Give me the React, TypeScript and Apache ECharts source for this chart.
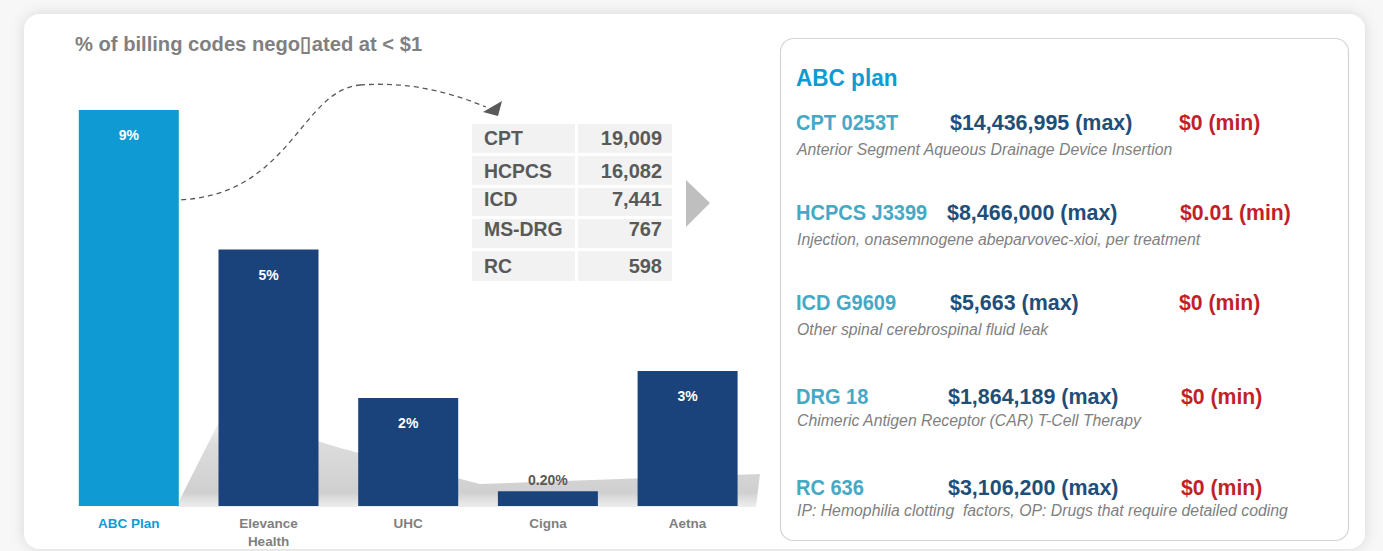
import React, { useEffect, useRef } from "react";
import * as echarts from "echarts";

const categories = ["ABC Plan", "Elevance\nHealth", "UHC", "Cigna", "Aetna"];
const shareValues = [8.8, 5.7, 2.4, 0.33, 3.0];
const shareLabels = ["9%", "5%", "2%", "0.20%", "3%"];

const codeTypes = ["CPT", "HCPCS", "ICD", "MS-DRG", "RC"];
const codeCounts = ["19,009", "16,082", "7,441", "767", "598"];

const planCodes = ["CPT 0253T", "HCPCS J3399", "ICD G9609", "DRG 18", "RC 636"];
const planMax = ["$14,436,995 (max)", "$8,466,000 (max)", "$5,663 (max)", "$1,864,189 (max)", "$3,106,200 (max)"];
const planMin = ["$0 (min)", "$0.01 (min)", "$0 (min)", "$0 (min)", "$0 (min)"];
const planDesc = [
  "Anterior Segment Aqueous Drainage Device Insertion",
  "Injection, onasemnogene abeparvovec-xioi, per treatment",
  "Other spinal cerebrospinal fluid leak",
  "Chimeric Antigen Receptor (CAR) T-Cell Therapy",
  "IP: Hemophilia clotting  factors, OP: Drugs that require detailed coding",
];

const FONT = "'Liberation Sans', Arial, sans-serif";

export default function App() {
  const ref = useRef<HTMLDivElement>(null);
  useEffect(() => {
    if (!ref.current) return;
    const chart = echarts.init(ref.current, null, { renderer: "svg" });

    const graphics: any[] = [];
    // card
    graphics.push({
      type: "rect", z: -10,
      shape: { x: 24, y: 14, width: 1341, height: 535, r: 16 },
      style: { fill: "#ffffff", shadowBlur: 14, shadowColor: "rgba(0,0,0,0.13)", shadowOffsetX: 0, shadowOffsetY: 0 },
    });
    // bar shadow (soft, fading upward)
    graphics.push({
      type: "polygon", z: -5,
      shape: { points: [[176, 507], [224, 412], [340, 448], [480, 484], [760, 474], [756, 507]] },
      style: {
        fill: new echarts.graphic.LinearGradient(0, 0, 0, 1, [
          { offset: 0, color: "rgba(215,215,215,0.15)" },
          { offset: 0.35, color: "rgba(208,208,208,0.75)" },
          { offset: 0.85, color: "rgba(205,205,205,0.95)" },
          { offset: 1, color: "rgba(225,225,225,0.6)" },
        ]),
      },
    });
    // title
    graphics.push({
      type: "text", x: 75, y: 43, scaleX: 0.96,
      style: { text: "% of billing codes nego\u25AFated at < $1", fill: "#808080", font: `bold 21px ${FONT}`, verticalAlign: "middle" },
    });
    // dashed arrow
    graphics.push({
      type: "bezierCurve",
      shape: { x1: 172, y1: 200, cpx1: 290, cpy1: 200, cpx2: 300, cpy2: 90, x2: 360, y2: 85 },
      style: { stroke: "#595959", lineWidth: 1.3, lineDash: [5, 4], fill: null },
    });
    graphics.push({
      type: "bezierCurve",
      shape: { x1: 360, y1: 85, cpx1: 400, cpy1: 82, cpx2: 440, cpy2: 88, x2: 486, y2: 107 },
      style: { stroke: "#595959", lineWidth: 1.3, lineDash: [5, 4], fill: null },
    });
    graphics.push({
      type: "polygon",
      shape: { points: [[483, 112], [502, 101], [498, 116]] },
      style: { fill: "#595959" },
    });
    // table
    const rowTops = [124, 156, 188, 219, 251];
    const rowH = [29, 29, 28, 29, 30];
    const textY = [138, 171, 199, 229, 266];
    codeTypes.forEach((t, i) => {
      graphics.push({ type: "rect", shape: { x: 472, y: rowTops[i], width: 103, height: rowH[i] }, style: { fill: "#f2f2f2" } });
      graphics.push({ type: "rect", shape: { x: 578, y: rowTops[i], width: 94, height: rowH[i] }, style: { fill: "#f2f2f2" } });
      graphics.push({ type: "text", x: 484, y: textY[i], scaleX: 0.97, style: { text: t, fill: "#595959", font: `bold 20px ${FONT}`, verticalAlign: "middle" } });
      graphics.push({ type: "text", x: 662, y: textY[i], style: { text: codeCounts[i], fill: "#595959", font: `bold 20px ${FONT}`, align: "right", verticalAlign: "middle" } });
    });
    graphics.push({ type: "polygon", shape: { points: [[686, 180], [710, 203], [686, 227]] }, style: { fill: "#bfbfbf" } });

    // right panel
    graphics.push({
      type: "rect",
      shape: { x: 780.5, y: 38.5, width: 568, height: 502, r: 13 },
      style: { fill: "#ffffff", stroke: "#d4d4d4", lineWidth: 1.2 },
    });
    graphics.push({
      type: "text", x: 796, y: 78, scaleX: 0.94,
      style: { text: "ABC plan", fill: "#0e9bd4", font: `bold 24px ${FONT}`, verticalAlign: "middle" },
    });
    const rowY = [122, 212, 302, 396, 487];
    const descY = [149, 239, 329, 420, 510];
    const maxX = [950, 947, 950, 948, 948];
    const minX = [1179, 1180, 1179, 1181, 1181];
    planCodes.forEach((c, i) => {
      graphics.push({ type: "text", x: 796, y: rowY[i], scaleX: 0.91, style: { text: c, fill: "#45a9c6", font: `bold 22px ${FONT}`, verticalAlign: "middle" } });
      graphics.push({ type: "text", x: maxX[i], y: rowY[i], scaleX: 0.975, style: { text: planMax[i], fill: "#1f4e79", font: `bold 22px ${FONT}`, verticalAlign: "middle" } });
      graphics.push({ type: "text", x: minX[i], y: rowY[i], scaleX: 0.965, style: { text: planMin[i], fill: "#c21f2a", font: `bold 22px ${FONT}`, verticalAlign: "middle" } });
      graphics.push({ type: "text", x: 797, y: descY[i], style: { text: planDesc[i], fill: "#7f7f7f", font: `italic 15.8px ${FONT}`, verticalAlign: "middle" } });
    });

    const option: any = {
      animation: false,
      backgroundColor: "#f7f7f7",
      grid: { left: 58.95, right: 625.55, top: 56, bottom: 45 },
      xAxis: {
        type: "category",
        data: categories,
        axisLine: { show: false },
        axisTick: { show: false },
        axisLabel: {
          interval: 0,
          margin: 8,
          lineHeight: 18,
          fontFamily: FONT,
          fontSize: 13.5,
          fontWeight: "bold",
          color: "#7f7f7f",
          formatter: (v: string, i: number) => (i === 0 ? `{a|${v}}` : v),
          rich: { a: { color: "#0e9bd4", fontFamily: FONT, fontSize: 13.5, fontWeight: "bold", lineHeight: 18 } },
        },
      },
      yAxis: { type: "value", min: 0, max: 10, show: false, splitLine: { show: false } },
      series: [
        {
          type: "bar",
          barWidth: 100,
          data: shareValues.map((v, i) => ({
            value: v,
            itemStyle: { color: i === 0 ? "#0f9ad3" : "#1b437b" },
            label:
              i === 3
                ? { show: true, position: "top", distance: 4, color: "#595959" }
                : { show: true, position: "insideTop", distance: 18, color: "#ffffff" },
          })),
          label: {
            show: true,
            fontFamily: FONT,
            fontSize: 14,
            fontWeight: "bold",
            formatter: (p: any) => shareLabels[p.dataIndex],
          },
        },
      ],
      graphic: { elements: graphics },
    };
    chart.setOption(option);
    return () => chart.dispose();
  }, []);
  return <div ref={ref} style={{ position: "fixed", left: 0, top: 0, width: 1383, height: 551 }} />;
}
